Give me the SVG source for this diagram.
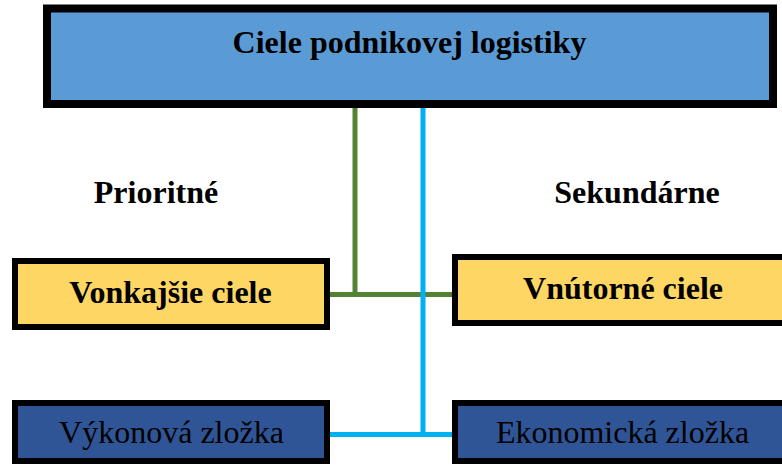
<svg xmlns="http://www.w3.org/2000/svg" width="782" height="465" viewBox="0 0 782 465">
  <style>
    .box { stroke: #000; }
    .main { fill: #5B9BD5; stroke-width: 8; }
    .goal { fill: #FDD663; stroke-width: 6; }
    .part { fill: #2F5597; stroke-width: 6; }
    .t { font-family: "Liberation Serif", "Times New Roman", serif; font-size: 32px; fill: #000; text-anchor: middle; }
    .b { font-weight: bold; }
    .green { stroke: #548235; stroke-width: 5; fill: none; }
    .cyan { stroke: #00B0F0; stroke-width: 5; fill: none; }
  </style>

  <!-- connectors -->
  <g id="connectors">
    <path class="green" d="M355,104 V294.5 M328,294.5 H455"/>
    <path class="cyan" d="M423,104 V434.5 M328,434.5 H455"/>
  </g>

  <g id="root">
    <rect class="box main" x="47" y="8.5" width="726" height="95.5"/>
    <text class="t b" x="409.5" y="53">Ciele podnikovej logistiky</text>
  </g>

  <g id="label-prioritne">
    <text class="t b" x="156" y="203">Prioritné</text>
  </g>
  <g id="label-sekundarne">
    <text class="t b" x="637" y="203">Sekundárne</text>
  </g>

  <g id="vonkajsie">
    <rect class="box goal" x="15" y="261" width="312" height="66"/>
    <text class="t b" x="170.5" y="303">Vonkajšie ciele</text>
  </g>

  <g id="vnutorne">
    <rect class="box goal" x="455" y="257" width="340" height="66"/>
    <text class="t b" x="623" y="299">Vnútorné ciele</text>
  </g>

  <g id="vykonova">
    <rect class="box part" x="15" y="403" width="312" height="58"/>
    <text class="t" x="171.5" y="443">Výkonová zložka</text>
  </g>

  <g id="ekonomicka">
    <rect class="box part" x="455" y="403" width="340" height="58"/>
    <text class="t" x="622.5" y="443">Ekonomická zložka</text>
  </g>
</svg>
